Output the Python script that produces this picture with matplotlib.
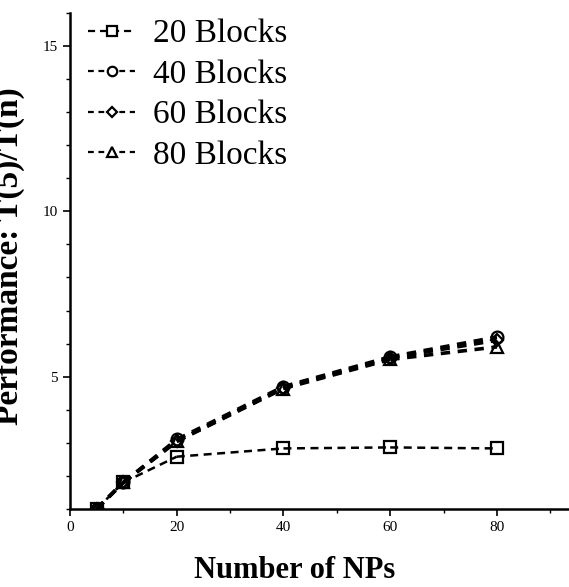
import matplotlib
matplotlib.use("Agg")
import matplotlib.pyplot as plt
from matplotlib.lines import Line2D
from matplotlib.ticker import MultipleLocator

# Speedup vs. number of NPs for several block counts
nps = [5, 10, 20, 40, 60, 80]
blocks_20 = [1.0, 1.8, 2.58, 2.83, 2.86, 2.83]
blocks_40 = [1.0, 1.8, 3.1, 4.7, 5.6, 6.2]
blocks_60 = [1.0, 1.8, 3.05, 4.66, 5.57, 6.1]
blocks_80 = [1.0, 1.8, 3.04, 4.64, 5.52, 5.9]
labels = ["20 Blocks", "40 Blocks", "60 Blocks", "80 Blocks"]
x_ticks = [0, 20, 40, 60, 80]
y_ticks = [5, 10, 15]

plt.rcParams["font.family"] = ["Liberation Serif", "DejaVu Serif"]

fig = plt.figure(figsize=(5.69, 5.87), dpi=100)
ax = fig.add_axes([0.123, 0.133, 0.877, 0.845])

styles = [
    dict(marker="s", lw=1.8, dashes=(3.2, 2.2), ms=8.5),
    dict(marker="o", lw=2.6, dashes=(2.6, 2.1), ms=8.5),
    dict(marker="D", lw=2.6, dashes=(2.6, 2.1), ms=6.5),
    dict(marker="^", lw=2.6, dashes=(2.6, 2.1), ms=8.5),
]
series = [blocks_20, blocks_40, blocks_60, blocks_80]
handles = []
for ys, lab, st in zip(series, labels, styles):
    # each segment starts its own dash pattern so overlapping series stay in step
    for i in range(len(nps) - 1):
        ax.plot(nps[i:i + 2], ys[i:i + 2], color="black",
                dashes=st["dashes"], linewidth=st["lw"])
    ax.plot(nps, ys, linestyle="none", marker=st["marker"],
            markersize=st["ms"], markerfacecolor="none",
            markeredgecolor="black", markeredgewidth=1.6)
    handles.append(Line2D([], [], color="black", dashes=st["dashes"],
                          linewidth=1.6, marker=st["marker"],
                          markersize=st["ms"] * 0.8, markerfacecolor="white",
                          markeredgecolor="black", markeredgewidth=1.6,
                          label=lab))

ax.set_xlim(0, 93.5)
ax.set_ylim(1, 16)
ax.set_xticks(x_ticks)
ax.set_yticks(y_ticks)
ax.xaxis.set_minor_locator(MultipleLocator(10))
ax.yaxis.set_minor_locator(MultipleLocator(1))
for s in ("top", "right"):
    ax.spines[s].set_visible(False)
for s in ("left", "bottom"):
    ax.spines[s].set_linewidth(1.8)
ax.tick_params(axis="both", which="major", direction="out", length=5,
               width=1.2, labelsize=11)
ax.tick_params(axis="both", which="minor", direction="out", length=3,
               width=1.0)

ax.set_xlabel("Number of NPs", fontsize=22, fontweight="bold")
ax.xaxis.set_label_coords(0.45, -0.095)
fig.text(0.032, 0.564, "Performance: T(5)/T(n)", rotation=90,
         rotation_mode="anchor", fontsize=24, fontweight="bold",
         ha="center", va="baseline")

ax.legend(handles=handles, loc="upper left", bbox_to_anchor=(0.01, 1.015),
          frameon=False, fontsize=24, handlelength=1.4, handletextpad=0.55,
          labelspacing=0.3, borderaxespad=0.0)

fig.savefig("out.png", dpi=100)
